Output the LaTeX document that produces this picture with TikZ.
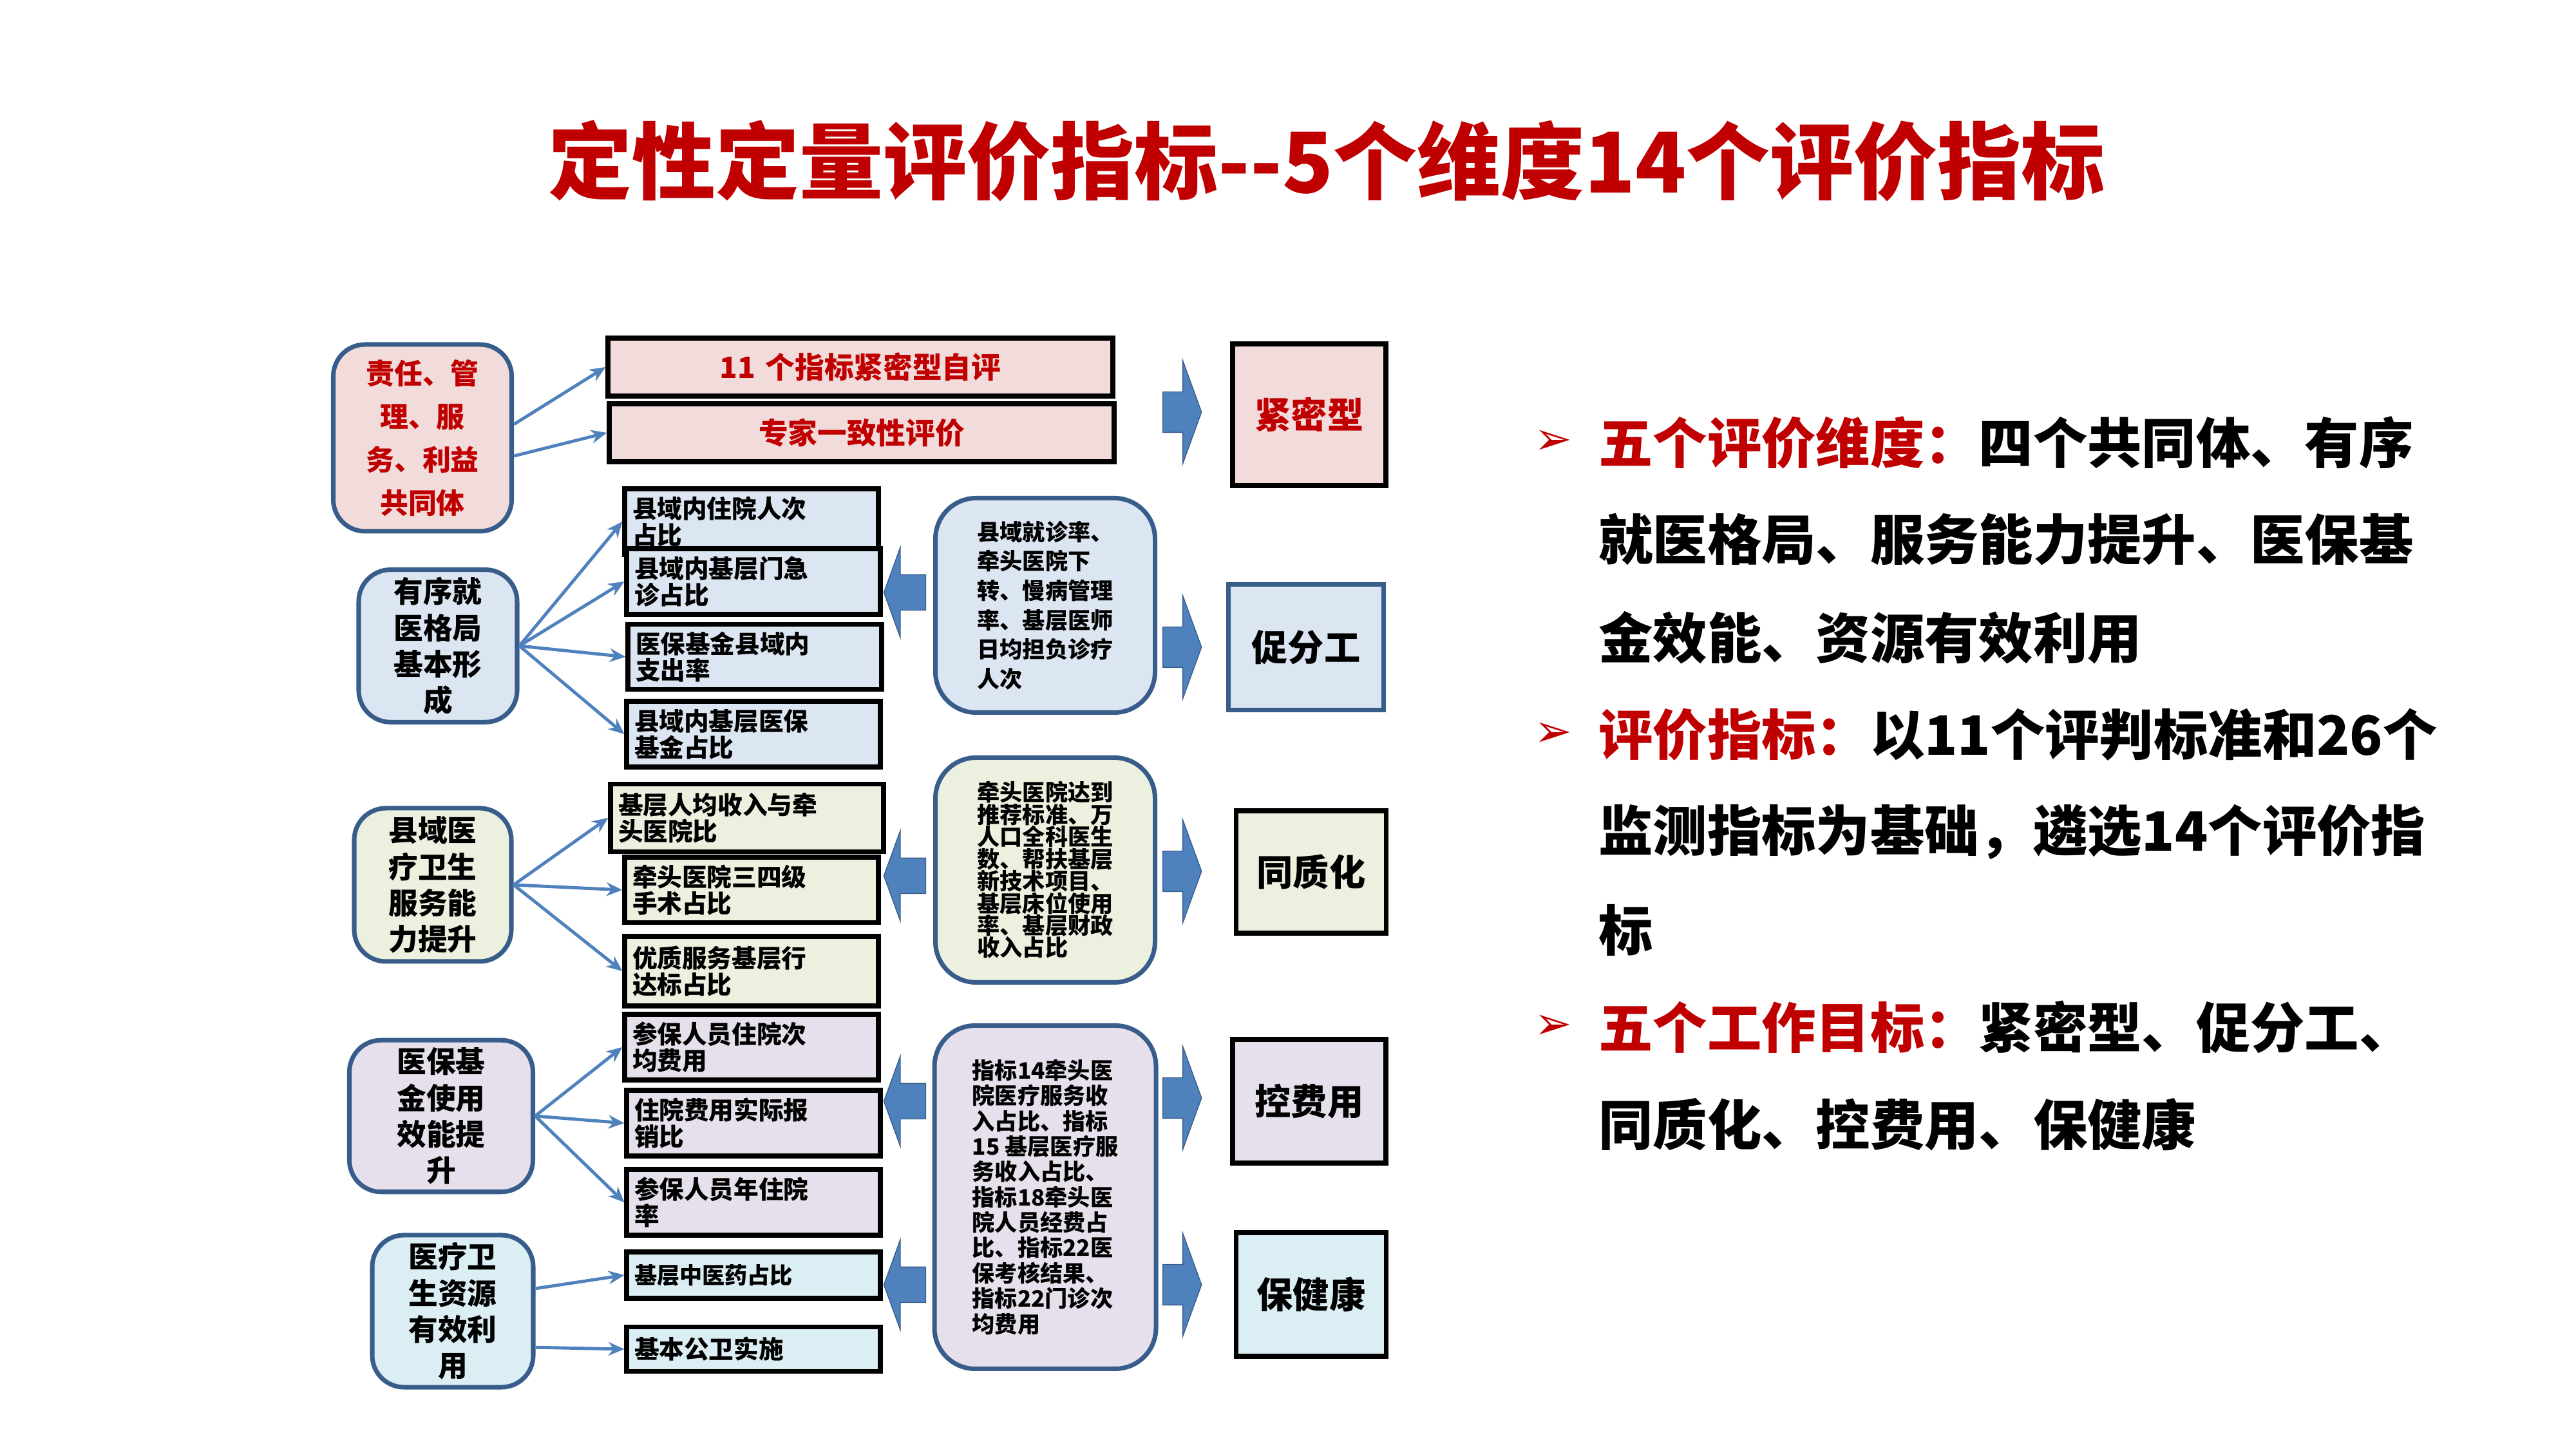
\documentclass[tikz,border=0pt]{standalone}
\usepackage{fontspec}
\setmainfont{Noto Sans CJK SC}
\newfontfamily\symfont{DejaVu Sans}
\usetikzlibrary{arrows.meta, shapes.arrows}
\definecolor{titlered}{HTML}{C00000}
\definecolor{edgeblue}{HTML}{4F81BD}
\definecolor{darkblue}{HTML}{385D8A}
\definecolor{fpink}{HTML}{F2DCDB}
\definecolor{fblue}{HTML}{DCE6F2}
\definecolor{fgreen}{HTML}{EBF1DE}
\definecolor{fviolet}{HTML}{E6E0EC}
\definecolor{fcyan}{HTML}{DBEEF4}
\tikzset{
  dimbox/.style={rounded corners=14pt, draw=darkblue, line width=2pt, align=center, font=\bfseries\fontsize{13}{16}\selectfont},
  itembox/.style={draw=black, line width=2.2pt, align=left, text width=3.7cm, font=\bfseries\fontsize{11}{10}\selectfont},
  notebox/.style={rounded corners=18pt, draw=darkblue, line width=2pt, align=left, font=\bfseries\fontsize{10}{13}\selectfont},
  goalbox/.style={draw=black, line width=2.2pt, font=\bfseries\fontsize{16}{18}\selectfont},
  thin/.style={draw=edgeblue, line width=1.4pt, -{Stealth[length=7pt,width=6pt]}},
  blockr/.style={single arrow, fill=edgeblue, draw=darkblue, minimum height=0.6cm, minimum width=1.6cm, single arrow head extend=0.35cm, single arrow tip angle=140, inner xsep=0pt, inner ysep=0.22cm},
  blockl/.style={blockr, shape border rotate=180, minimum width=1.4cm, minimum height=0.65cm},
  pt/.style={anchor=west, font=\bfseries\fontsize{24}{26}\selectfont}
}
\begin{document}
\begin{tikzpicture}
			\useasboundingbox (0,0) rectangle (40,22.5);
			\node (title) at (20.6,20.0) {\bfseries\color{titlered}\fontsize{37}{42}\selectfont 定性定量评价指标{-}{-}5个维度14个评价指标};

			% left column
			\node (d1)[dimbox, fill=fpink, minimum width=2.77cm, minimum height=2.9cm, text=titlered, font=\bfseries\fontsize{12.5}{19}\selectfont] at (6.56,15.7) {责任、管\\理、服\\务、利益\\共同体};
			\node (d2)[dimbox, fill=fblue, minimum width=2.46cm, minimum height=2.28cm] at (6.8,12.47) {有序就\\医格局\\基本形\\成};
			\node (d3)[dimbox, fill=fgreen, minimum width=2.44cm, minimum height=2.38cm] at (6.72,8.76) {县域医\\疗卫生\\服务能\\力提升};
			\node (d4)[dimbox, fill=fviolet, minimum width=2.85cm, minimum height=2.26cm] at (6.85,5.17) {医保基\\金使用\\效能提\\升};
			\node (d5)[dimbox, fill=fcyan, minimum width=2.5cm, minimum height=2.33cm] at (7.03,2.14) {医疗卫\\生资源\\有效利\\用};

			% middle column
			\node (a1)[itembox, fill=fpink, text width=7.6cm, minimum height=0.9cm, align=center, text=titlered, font=\bfseries\fontsize{13}{15}\selectfont] at (13.36,16.8) {11 个指标紧密型自评};
			\node (a2)[itembox, fill=fpink, text width=7.6cm, minimum height=0.9cm, align=center, text=titlered, font=\bfseries\fontsize{13}{15}\selectfont] at (13.38,15.78) {专家一致性评价};
			\node (b1)[itembox, fill=fblue, minimum height=0.87cm] at (11.67,14.4) {县域内住院人次\\占比};
			\node (b2)[itembox, fill=fblue, minimum height=0.87cm] at (11.7,13.47) {县域内基层门急\\诊占比};
			\node (b3)[itembox, fill=fblue, minimum height=0.85cm] at (11.72,12.3) {医保基金县域内\\支出率};
			\node (b4)[itembox, fill=fblue, minimum height=0.85cm] at (11.7,11.1) {县域内基层医保\\基金占比};
			\node (c1)[itembox, fill=fgreen, text width=4cm, minimum height=1.05cm] at (11.6,9.8) {基层人均收入与牵\\头医院比};
			\node (c2)[itembox, fill=fgreen, minimum height=0.97cm] at (11.67,8.68) {牵头医院三四级\\手术占比};
			\node (c3)[itembox, fill=fgreen, minimum height=1.08cm] at (11.67,7.42) {优质服务基层行\\达标占比};
			\node (e1)[itembox, fill=fviolet, minimum height=0.9cm] at (11.67,6.24) {参保人员住院次\\均费用};
			\node (e2)[itembox, fill=fviolet, minimum height=0.97cm] at (11.7,5.06) {住院费用实际报\\销比};
			\node (e3)[itembox, fill=fviolet, minimum height=1.0cm] at (11.7,3.83) {参保人员年住院\\率};
			\node (f1)[itembox, fill=fcyan, minimum height=0.72cm, font=\bfseries\fontsize{10}{11}\selectfont] at (11.7,2.7) {基层中医药占比};
			\node (f2)[itembox, fill=fcyan, minimum height=0.69cm] at (11.7,1.55) {基本公卫实施};

			% notes
			\node (n1)[notebox, fill=fblue, minimum width=3.41cm, minimum height=3.33cm] at (16.23,13.1) {县域就诊率、\\牵头医院下\\转、慢病管理\\率、基层医师\\日均担负诊疗\\人次};
			\node (n2)[notebox, fill=fgreen, minimum width=3.41cm, minimum height=3.49cm, font=\bfseries\fontsize{10}{9.8}\selectfont] at (16.23,8.99) {牵头医院达到\\推荐标准、万\\人口全科医生\\数、帮扶基层\\新技术项目、\\基层床位使用\\率、基层财政\\收入占比};
			\node (n3)[notebox, fill=fviolet, minimum width=3.44cm, minimum height=5.33cm, font=\bfseries\fontsize{10}{11.2}\selectfont] at (16.23,3.91) {指标14牵头医\\院医疗服务收\\入占比、指标\\15 基层医疗服\\务收入占比、\\指标18牵头医\\院人员经费占\\比、指标22医\\保考核结果、\\指标22门诊次\\均费用};

			% goals
			\node (g1)[goalbox, fill=fpink, text=titlered, minimum width=2.38cm, minimum height=2.2cm] at (20.33,16.06) {紧密型};
			\node (g2)[goalbox, draw=darkblue, fill=fblue, minimum width=2.41cm, minimum height=1.95cm] at (20.28,12.45) {促分工};
			\node (g3)[goalbox, fill=fgreen, minimum width=2.33cm, minimum height=1.9cm] at (20.36,8.96) {同质化};
			\node (g4)[goalbox, fill=fviolet, minimum width=2.38cm, minimum height=1.92cm] at (20.33,5.4) {控费用};
			\node (g5)[goalbox, fill=fcyan, minimum width=2.33cm, minimum height=1.92cm] at (20.36,2.4) {保健康};

			% block arrows
			\foreach \y/\n in {16.1/r1, 12.45/r2, 8.97/r3, 5.45/r4, 2.55/r5}
				\node (\n)[blockr] at (18.3,\y) {};
			\foreach \y/\n in {13.3/l1, 8.9/l2, 5.4/l3, 2.55/l4}
				\node (\n)[blockl] at (14.1,\y) {};

			% connectors
			\draw[thin] ([yshift=6pt]d1.east) -- (a1.west);
			\draw[thin] ([yshift=-8pt]d1.east) -- (a2.west);
			\foreach \t in {b1, b2, b3, b4}
				\draw[thin] (d2.east) -- (\t.west);
			\foreach \t in {c1, c2, c3}
				\draw[thin] (d3.east) -- (\t.west);
			\foreach \t in {e1, e2, e3}
				\draw[thin] (d4.east) -- (\t.west);
			\draw[thin] ([yshift=10pt]d5.east) -- (f1.west);
			\draw[thin] ([yshift=-16pt]d5.east) -- (f2.west);

			% right text
			\foreach \y/\t in {15.63/{{\color{titlered}五个评价维度：}四个共同体、有序},
					14.12/{就医格局、服务能力提升、医保基},
					12.6/{金效能、资源有效利用},
					11.09/{{\color{titlered}评价指标：}以11个评判标准和26个},
					9.58/{监测指标为基础，遴选14个评价指},
					8.06/{标},
					6.55/{{\color{titlered}五个工作目标：}紧密型、促分工、},
					5.04/{同质化、控费用、保健康}}
				\node[pt] at (24.7,\y) {\t};
			\foreach \y/\n in {15.63/k1, 11.09/k2, 6.55/k3}
				\node (\n)[anchor=west, text=titlered, font=\symfont\fontsize{20}{22}\selectfont] at (23.7,\y) {➢};
		\end{tikzpicture}
\end{document}
